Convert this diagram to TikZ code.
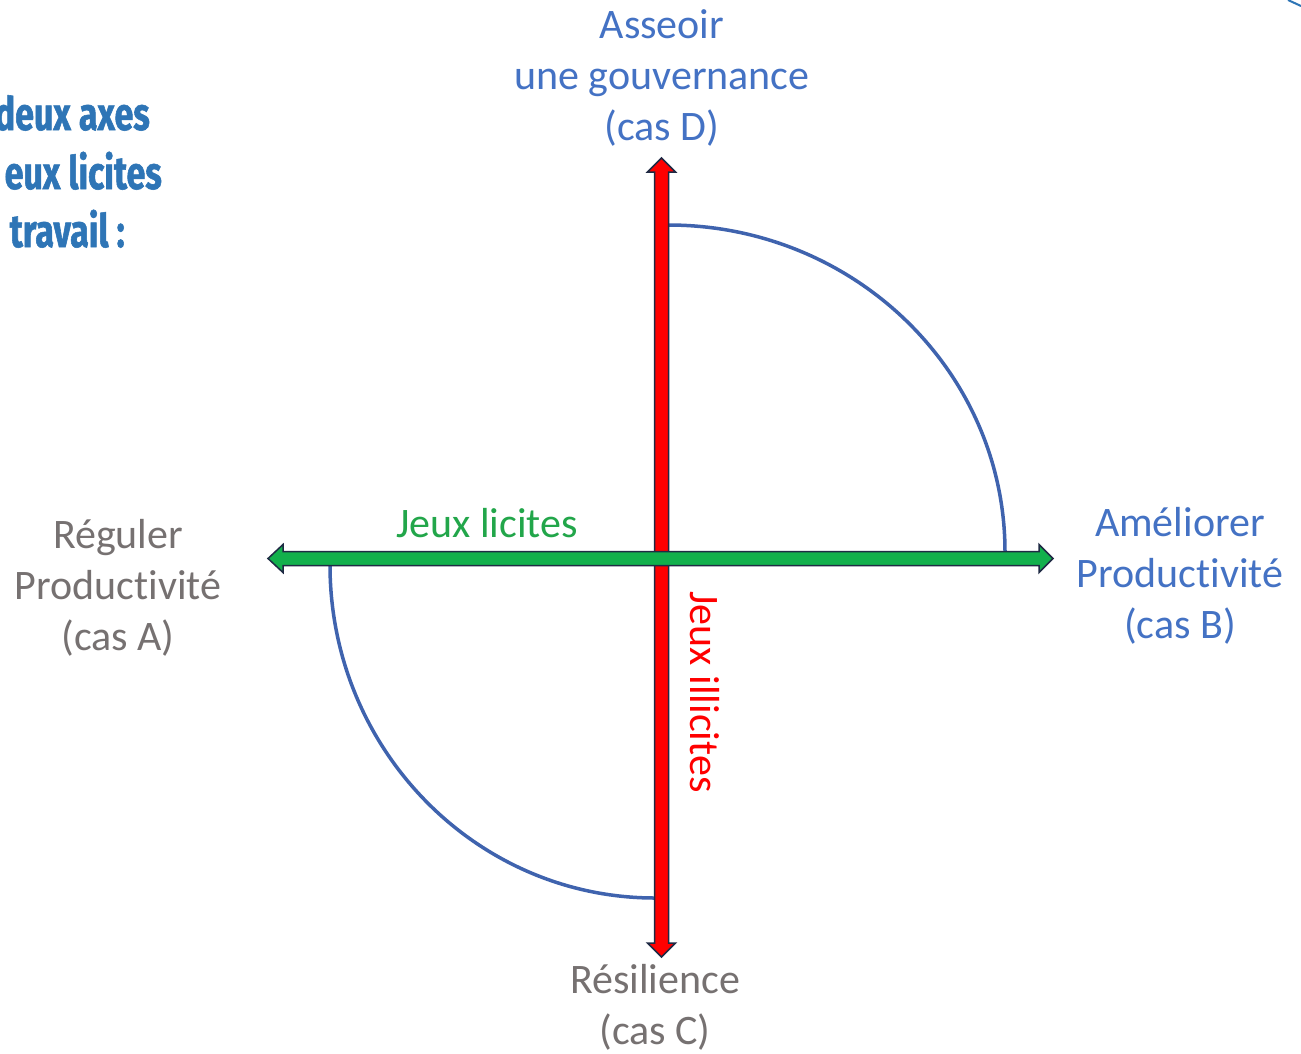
\documentclass[tikz,border=0pt]{standalone}
\usepackage{fontspec}
\setmainfont{Carlito}[RawFeature={-liga;-clig;-dlig}]
\newfontfamily\condfont[FakeStretch=0.74,FakeBold=1.2]{Fira Sans}
\usetikzlibrary{calc}
\definecolor{txtblue}{HTML}{4472C4}
\definecolor{txtgray}{HTML}{767171}
\definecolor{txtgreen}{HTML}{22A64A}
\definecolor{txtred}{HTML}{FF0000}
\definecolor{titleblue}{HTML}{2E75B6}
\definecolor{arcblue}{HTML}{3F63AE}
\definecolor{arrowgreen}{HTML}{12B04C}
\definecolor{arrowred}{HTML}{FF0000}
\definecolor{outline}{HTML}{1F2A44}
\tikzset{
  lbl/.style={font=\fontsize{42}{51}\selectfont, align=center, inner sep=0pt},
  titletext/.style={font=\condfont\bfseries\fontsize{46}{58}\selectfont, text=titleblue, inner sep=0pt, anchor=base east},
  blockarrow/.style={draw=outline, line width=1.5pt, line join=miter},
  quarter/.style={draw=arcblue, line width=3.5pt},
}
\begin{document}
\begin{tikzpicture}[x=1pt,y=-1pt]
\useasboundingbox[fill=white] (0,0) rectangle (1301,1053);

% title fragment (cut at the left edge)
\node[titletext] (t1) at (150,130) {deux axes};
\node[titletext] (t2) at (162,189) {eux licites};
\node[titletext] (t3) at (125,247) {travail :};

% corner fragment
\draw[titleblue, line width=2pt] (1288,0) -- (1301,6);

% quarter arcs
\draw[quarter] (668,225) arc[start angle=-90, end angle=0, x radius=337, y radius=327];
\draw[quarter] (330,565) arc[start angle=180, end angle=90, x radius=325, y radius=333];

% vertical red arrow
\coordinate (vtop) at (661.5,158);
\coordinate (vbot) at (661.5,957);
\filldraw[blockarrow, fill=arrowred] (vtop) -- ++(14,14) -- ++(-7,0)
  -- ($(vbot)+(7,-14)$) -- ++(7,0) -- (vbot) -- ++(-14,-14) -- ++(7,0)
  -- ($(vtop)+(-7,14)$) -- ++(-7,0) -- cycle;

% horizontal green arrow
\coordinate (hleft) at (268,558.5);
\coordinate (hright) at (1053,558.5);
\filldraw[blockarrow, fill=arrowgreen] (hleft) -- ++(15,-14) -- ++(0,7)
  -- ($(hright)+(-14,-7)$) -- ++(0,-7) -- (hright) -- ++(-14,14) -- ++(0,-7)
  -- ($(hleft)+(15,7)$) -- ++(0,7) -- cycle;

% labels
\node[lbl, text=txtblue] (D) at (662,78) {Asseoir\\une gouvernance\\(cas D)};
\node[lbl, text=txtblue] (B) at (1180,576) {Améliorer\\Productivité\\(cas B)};
\node[lbl, text=txtgray] (A) at (118,588) {Réguler\\Productivité\\(cas A)};
\node[lbl, text=txtgray] (C) at (655,1007) {Résilience\\(cas C)};
\node[lbl, text=txtgreen, anchor=base] (licites) at (487,537) {Jeux licites};
\node[lbl, text=txtred, anchor=base, rotate=-90] (illicites) at (690,692) {Jeux illicites};
\end{tikzpicture}
\end{document}
